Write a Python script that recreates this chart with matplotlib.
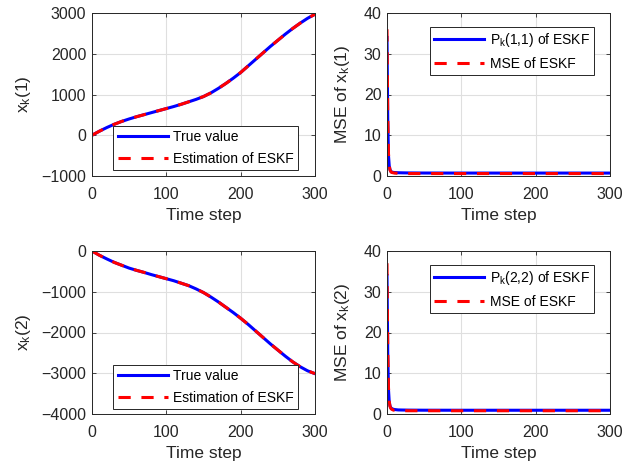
import numpy as np
import matplotlib
matplotlib.use('Agg')
import matplotlib.pyplot as plt

plt.rcParams['font.family'] = ['Liberation Sans', 'DejaVu Sans']
plt.rcParams['mathtext.default'] = 'regular'

# ---- data ----
t = [0, 10, 20, 30, 40, 50, 60, 70, 80, 90, 100, 110, 120, 130, 140, 150,
     160, 170, 180, 190, 200, 210, 220, 230, 240, 250, 260, 270, 280, 290, 300]
x1_true = [0, 100, 190, 270, 340, 400, 455, 505, 555, 605, 655, 705, 760, 820,
           880, 950, 1040, 1150, 1270, 1400, 1540, 1700, 1860, 2020, 2180, 2330,
           2480, 2620, 2750, 2870, 2970]
x1_est = [0, 100, 190, 270, 340, 400, 455, 505, 555, 605, 655, 705, 760, 820,
          880, 950, 1040, 1150, 1270, 1400, 1540, 1700, 1860, 2020, 2180, 2330,
          2480, 2620, 2750, 2870, 2970]
x2_true = [0, -105, -195, -280, -350, -420, -475, -525, -580, -630, -680, -730,
           -790, -850, -930, -1020, -1130, -1250, -1380, -1510, -1650, -1800,
           -1960, -2120, -2280, -2430, -2580, -2720, -2840, -2940, -3010]
x2_est = [0, -105, -195, -280, -350, -420, -475, -525, -580, -630, -680, -730,
          -790, -850, -930, -1020, -1130, -1250, -1380, -1510, -1650, -1800,
          -1960, -2120, -2280, -2430, -2580, -2720, -2840, -2940, -3010]

tm = [0, 1, 2, 3, 4, 5, 6, 8, 10, 15, 20, 30, 50, 100, 150, 200, 250, 300]
p11 = [34, 14, 5.0, 2.5, 1.6, 1.2, 1.0, 0.9, 0.85, 0.8, 0.78, 0.75, 0.73, 0.72,
       0.72, 0.72, 0.72, 0.72]
mse1 = [36, 15, 5.5, 2.6, 1.5, 1.1, 0.9, 0.8, 0.72, 0.66, 0.62, 0.6, 0.6, 0.6,
        0.6, 0.6, 0.6, 0.6]
p22 = [34, 15, 6.0, 3.0, 2.0, 1.6, 1.35, 1.2, 1.1, 1.0, 0.98, 0.95, 0.93, 0.92,
       0.92, 0.92, 0.92, 0.92]
mse2 = [37, 16, 6.5, 3.1, 1.9, 1.4, 1.2, 1.0, 0.9, 0.85, 0.82, 0.8, 0.8, 0.8,
        0.8, 0.8, 0.8, 0.8]

dark = '#262626'
W, H = 636, 466
fig = plt.figure(figsize=(W / 100, H / 100), dpi=100)


def make_ax(x0, y0, x1, y1):
    ax = fig.add_axes([x0 / W, 1 - y1 / H, (x1 - x0) / W, (y1 - y0) / H])
    ax.grid(True, color='#dfdfdf', linewidth=0.8)
    ax.set_axisbelow(True)
    ax.tick_params(direction='in', length=3, width=0.6, top=True, right=True,
                   labelsize=11.5, colors=dark)
    ax.tick_params(axis='x', pad=8)
    ax.tick_params(axis='y', pad=4)
    for s in ax.spines.values():
        s.set_color(dark)
        s.set_linewidth(0.7)
    ax.set_xlim(0, 300)
    ax.set_xticks([0, 100, 200, 300])
    ax.set_xlabel('Time step', fontsize=12.5, color=dark, labelpad=4)
    return ax


def draw(ax, x, a, b, la, lb):
    ax.plot(x, a, color='blue', linewidth=2.2, label=la)
    ax.plot(x, b, color='red', linewidth=2.2, dashes=(4, 3.5), label=lb)


leg_kw = dict(fontsize=10, handlelength=3.6, borderaxespad=0, fancybox=False,
              framealpha=1, edgecolor=dark, borderpad=0.3, labelspacing=0.55,
              handletextpad=0.4)

# top left
ax = make_ax(92, 13, 315, 176)
draw(ax, t, x1_true, x1_est, 'True value', 'Estimation of ESKF')
ax.set_ylim(-1000, 3000)
ax.set_yticks([-1000, 0, 1000, 2000, 3000])
ax.set_ylabel('x$_k$(1)', fontsize=12.5, color=dark, labelpad=6)
lg = ax.legend(loc='lower right', bbox_to_anchor=(0.924, 0.037), **leg_kw)
lg.get_frame().set_linewidth(0.7)

# top right
ax = make_ax(387, 13, 610, 176)
draw(ax, tm, p11, mse1, 'P$_k$(1,1) of ESKF', 'MSE of ESKF')
ax.set_ylim(0, 40)
ax.set_yticks([0, 10, 20, 30, 40])
ax.set_ylabel('MSE of x$_k$(1)', fontsize=12.5, color=dark, labelpad=8)
lg = ax.legend(loc='upper right', bbox_to_anchor=(0.928, 0.914), **leg_kw)
lg.get_frame().set_linewidth(0.7)

# bottom left
ax = make_ax(92, 251, 315, 414)
draw(ax, t, x2_true, x2_est, 'True value', 'Estimation of ESKF')
ax.set_ylim(-4000, 0)
ax.set_yticks([-4000, -3000, -2000, -1000, 0])
ax.set_ylabel('x$_k$(2)', fontsize=12.5, color=dark, labelpad=6)
lg = ax.legend(loc='lower right', bbox_to_anchor=(0.924, 0.031), **leg_kw)
lg.get_frame().set_linewidth(0.7)

# bottom right
ax = make_ax(387, 251, 610, 414)
draw(ax, tm, p22, mse2, 'P$_k$(2,2) of ESKF', 'MSE of ESKF')
ax.set_ylim(0, 40)
ax.set_yticks([0, 10, 20, 30, 40])
ax.set_ylabel('MSE of x$_k$(2)', fontsize=12.5, color=dark, labelpad=8)
lg = ax.legend(loc='upper right', bbox_to_anchor=(0.928, 0.914), **leg_kw)
lg.get_frame().set_linewidth(0.7)

fig.savefig('out.png', dpi=100)
